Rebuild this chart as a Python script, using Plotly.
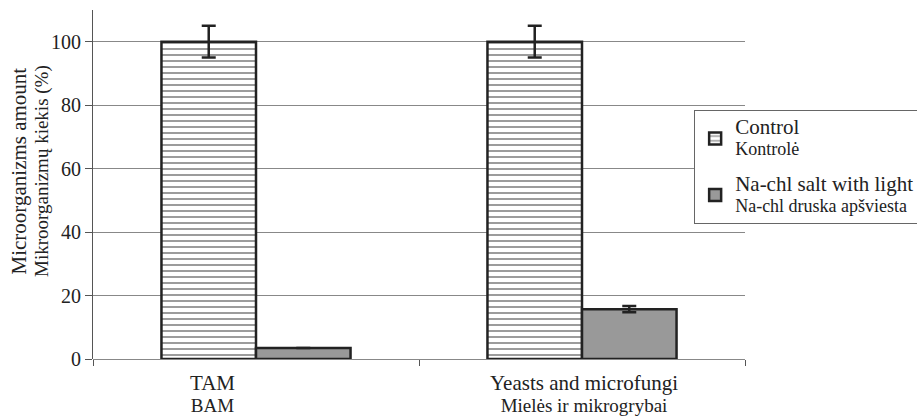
import plotly.graph_objects as go

categories = ["TAM", "Yeasts and microfungi"]
category_sub = ["BAM", "Mielės ir mikrogrybai"]
control = [100, 100]
control_err = [5, 5]
salt = [3.5, 15.7]
salt_err = [None, 1]

series_names = ["Control", "Na-chl salt with light"]
series_sub = ["Kontrolė", "Na-chl druska apšviesta"]
y_title = "Microorganizms amount"
y_title_sub = "Mikroorganizmų kiekis (%)"

font_family = "Liberation Serif"
ink = "#222222"
label_xshift = [-44, 2]


def two_line(main, sub, big=21, small=19):
    return f"<span style='font-size:{big}px'>{main}</span><br><span style='font-size:{small}px'>{sub}</span>"


fig = go.Figure()
fig.add_trace(go.Bar(
    x=categories, y=control, legendgroup="g1",
    name=two_line(series_names[0], series_sub[0], 21, 18),
    marker=dict(color="white", line=dict(color=ink, width=2.5),
                pattern=dict(shape="-", fgcolor=ink, bgcolor="white", size=6, solidity=0.3)),
    error_y=dict(type="data", array=control_err, color=ink, thickness=2.5, width=7),
))
fig.add_trace(go.Bar(
    x=categories, y=salt, legendgroup="g2",
    name=two_line(series_names[1], series_sub[1], 21, 18),
    marker=dict(color="#999999", line=dict(color=ink, width=2.5)),
    error_y=dict(type="data", array=salt_err, color=ink, thickness=2.5, width=7),
))

for i, cat in enumerate(categories):
    fig.add_annotation(x=cat, y=0, xref="x", yref="y", text=two_line(cat, category_sub[i], 21, 19),
                       showarrow=False, xshift=label_xshift[i], yshift=-10, yanchor="top",
                       font=dict(family=font_family, size=17, color=ink))

fig.add_annotation(x=-0.0966, y=0.5387, xref="paper", yref="paper", textangle=-90,
                   text=two_line(y_title, y_title_sub, 21, 19), showarrow=False,
                   xanchor="center", yanchor="middle",
                   font=dict(family=font_family, size=17, color=ink))

fig.update_layout(
    width=917, height=417,
    margin=dict(l=93, r=172, t=10, b=58, autoexpand=False),
    paper_bgcolor="white", plot_bgcolor="white",
    font=dict(family=font_family, size=18, color=ink),
    barmode="group", bargap=0.42, bargroupgap=0,
    showlegend=True,
    legend=dict(x=0.922, xanchor="left", y=0.713, yanchor="top",
                bgcolor="white", bordercolor="#666666", borderwidth=1,
                tracegroupgap=12,
                font=dict(family=font_family, size=16, color=ink)),
    xaxis=dict(showline=False, ticks="outside", tickson="boundaries", ticklen=6,
               tickcolor="#555555", showgrid=False, showticklabels=False, automargin=False),
    yaxis=dict(range=[0, 110], dtick=20, showline=True, linecolor="#555555", linewidth=1,
               ticks="outside", ticklen=7, tickcolor="#555555", automargin=False,
               showgrid=True, gridcolor="#888888", gridwidth=1,
               zeroline=True, zerolinecolor="#888888", zerolinewidth=1,
               tickfont=dict(family=font_family, size=20, color=ink)),
)

fig.write_html("out.html")
